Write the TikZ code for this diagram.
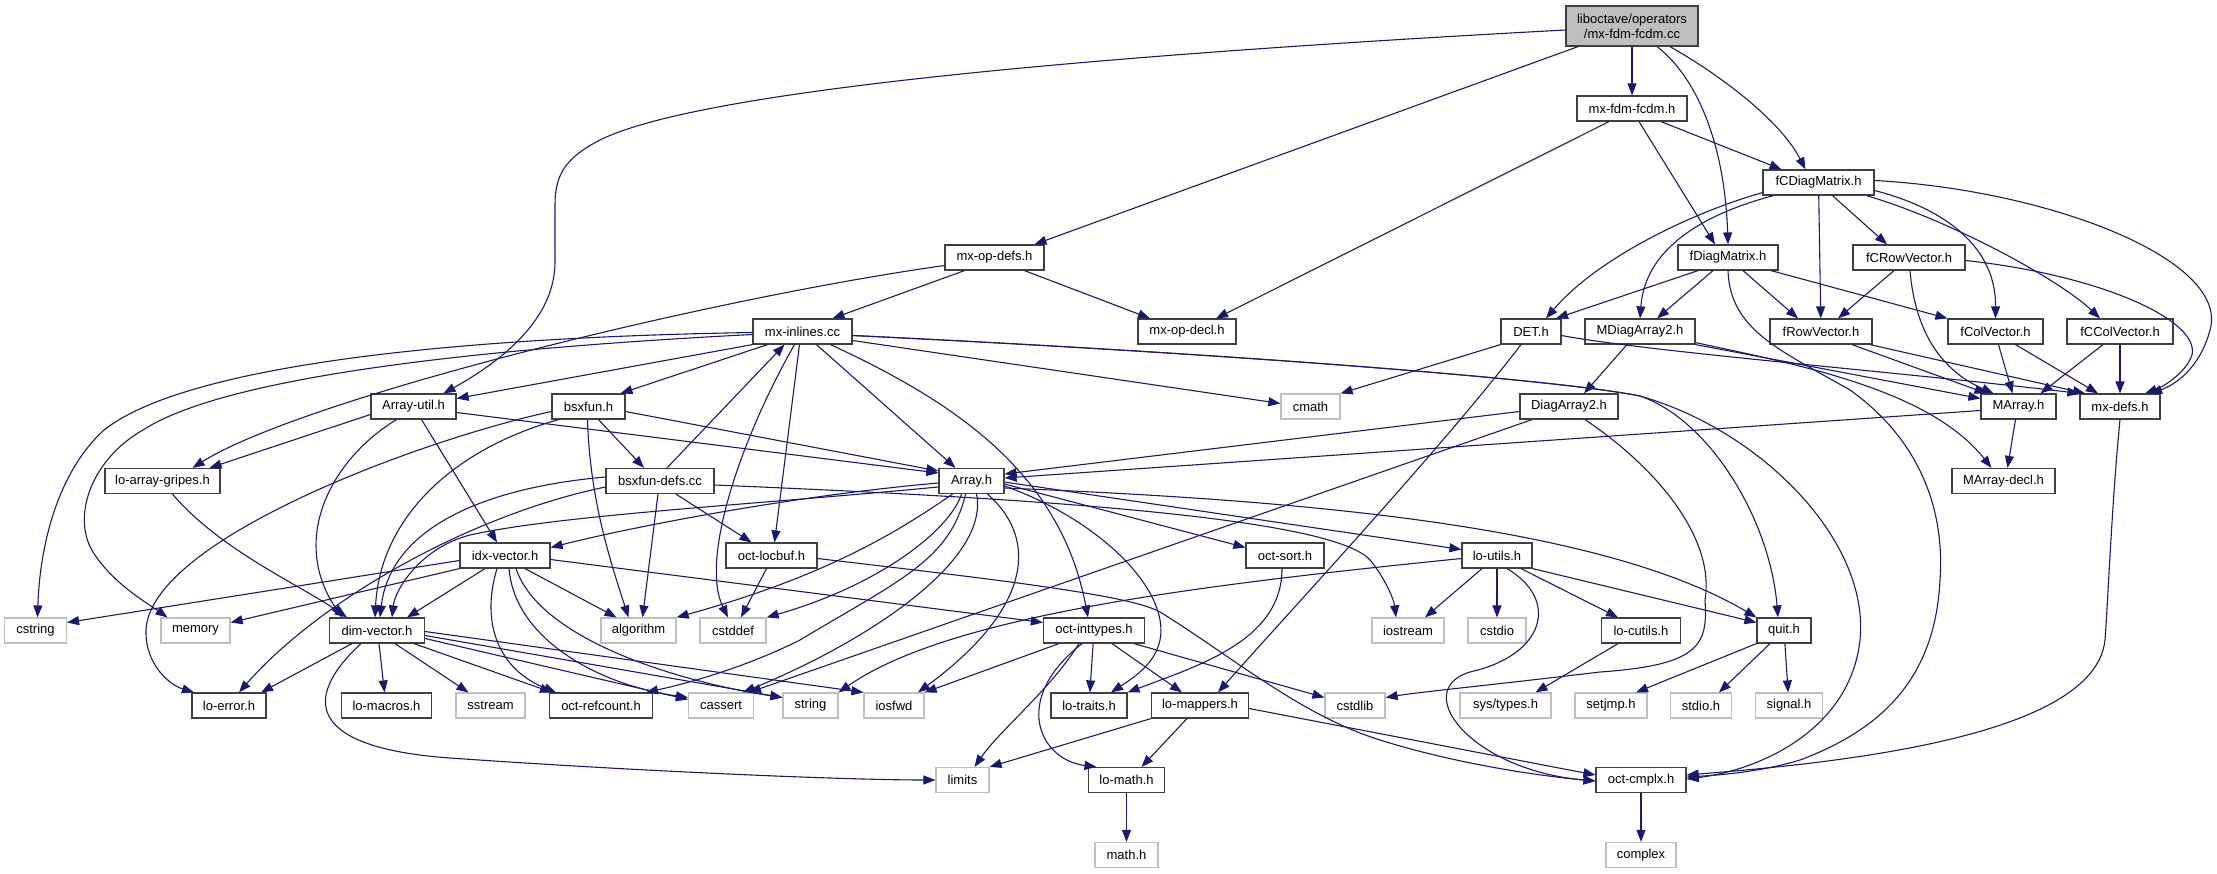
\documentclass[tikz,border=0pt]{standalone}
\usepackage{fontspec}
\setmainfont{Liberation Sans}
\usetikzlibrary{arrows.meta}
\definecolor{edgeblue}{RGB}{25,25,112}
\definecolor{boxline}{RGB}{64,64,64}
\definecolor{extline}{RGB}{191,191,191}
\definecolor{rootfill}{RGB}{191,191,191}
\tikzset{
  nb/.style={draw=boxline, line width=1.2pt, minimum height=25pt, inner sep=0pt, font=\fontsize{13}{15}\selectfont},
  ext/.style={nb, draw=extline},
  rootbox/.style={nb, fill=rootfill, minimum height=40pt, align=center},
  e/.style={draw=edgeblue, line width=1.1pt, -{Triangle[length=12pt,width=9pt]}},
}
\begin{document}
\begin{tikzpicture}[x=1pt,y=-1pt]
\useasboundingbox (0,0) rectangle (2217,873);
% nodes
\node[rootbox, minimum width=132pt] (R) at (1632,26) {liboctave/operators\\/mx-fdm-fcdm.cc};
\node[nb, minimum width=110pt] (H) at (1632,108.5) {mx-fdm-fcdm.h};
\node[nb, minimum width=111pt] (FCD) at (1818.5,182.5) {fCDiagMatrix.h};
\node[nb, minimum width=99pt] (MOD) at (994.5,257.5) {mx-op-defs.h};
\node[nb, minimum width=100pt] (FD) at (1728,257.5) {fDiagMatrix.h};
\node[nb, minimum width=112pt] (FCRV) at (1909,257.5) {fCRowVector.h};
\node[nb, minimum width=99pt] (MXI) at (802.5,331.5) {mx-inlines.cc};
\node[nb, minimum width=98pt] (MOPDECL) at (1187,331.5) {mx-op-decl.h};
\node[nb, minimum width=60pt] (DET) at (1531,331.5) {DET.h};
\node[nb, minimum width=110pt] (MDA2) at (1640,331.5) {MDiagArray2.h};
\node[nb, minimum width=102pt] (FRV) at (1821,331.5) {fRowVector.h};
\node[nb, minimum width=95pt] (FCV) at (1995.5,331.5) {fColVector.h};
\node[nb, minimum width=106pt] (FCCV) at (2120,331.5) {fCColVector.h};
\node[nb, minimum width=85pt] (AU) at (413.5,406.5) {Array-util.h};
\node[nb, minimum width=73pt] (BSX) at (588.5,406.5) {bsxfun.h};
\node[ext, minimum width=59pt] (CMATH) at (1310.5,406.5) {cmath};
\node[nb, minimum width=98pt] (DA2) at (1569,406.5) {DiagArray2.h};
\node[nb, minimum width=75pt] (MARR) at (2018.5,406.5) {MArray.h};
\node[nb, minimum width=80pt] (MXDEFS) at (2120,406.5) {mx-defs.h};
\node[nb, minimum width=115pt] (LAG) at (162.5,481) {lo-array-gripes.h};
\node[nb, minimum width=108pt] (BSXD) at (660,481) {bsxfun-defs.cc};
\node[nb, minimum width=65pt] (ARR) at (971.5,481) {Array.h};
\node[nb, minimum width=103pt] (MAD) at (2003.5,481) {MArray-decl.h};
\node[nb, minimum width=90pt] (IDX) at (505,555.5) {idx-vector.h};
\node[nb, minimum width=91pt] (LOCBUF) at (771.5,555.5) {oct-locbuf.h};
\node[nb, minimum width=78pt] (OSORT) at (1285,555.5) {oct-sort.h};
\node[nb, minimum width=70pt] (LOUT) at (1497,555.5) {lo-utils.h};
\node[ext, minimum width=62pt] (CSTRING) at (35.5,630.5) {cstring};
\node[ext, minimum width=69pt] (MEMORY) at (195.5,630.5) {memory};
\node[nb, minimum width=95pt] (DIMV) at (377,630.5) {dim-vector.h};
\node[ext, minimum width=75pt] (ALGO) at (638.5,630.5) {algorithm};
\node[ext, minimum width=66pt] (CSTDDEF) at (733,630.5) {cstddef};
\node[nb, minimum width=101pt] (OINT) at (1094,630.5) {oct-inttypes.h};
\node[ext, minimum width=72pt] (IOSTREAM) at (1408,630.5) {iostream};
\node[ext, minimum width=58pt] (CSTDIO) at (1497,630.5) {cstdio};
\node[nb, minimum width=79pt] (LOCUT) at (1641,630.5) {lo-cutils.h};
\node[nb, minimum width=54pt] (QUIT) at (1784,630.5) {quit.h};
\node[nb, minimum width=74pt] (LOERR) at (229,705.5) {lo-error.h};
\node[nb, minimum width=90pt] (LOMAC) at (386.5,705.5) {lo-macros.h};
\node[ext, minimum width=69pt] (SSTREAM) at (490.5,705.5) {sstream};
\node[nb, minimum width=103pt] (REFC) at (601,705.5) {oct-refcount.h};
\node[ext, minimum width=65pt] (CASSERT) at (721,705.5) {cassert};
\node[ext, minimum width=55pt] (STRING) at (810.5,705.5) {string};
\node[ext, minimum width=60pt] (IOSFWD) at (894,705.5) {iosfwd};
\node[nb, minimum width=76pt] (LTRAITS) at (1089,705.5) {lo-traits.h};
\node[nb, minimum width=97pt] (LMAP) at (1200,705.5) {lo-mappers.h};
\node[ext, minimum width=60pt] (CSTDLIB) at (1355,705.5) {cstdlib};
\node[ext, minimum width=91pt] (SYSTYPES) at (1505.5,705.5) {sys/types.h};
\node[ext, minimum width=72pt] (SETJMP) at (1611,705.5) {setjmp.h};
\node[ext, minimum width=61pt] (STDIOH) at (1701,705.5) {stdio.h};
\node[ext, minimum width=67pt] (SIGNAL) at (1789,705.5) {signal.h};
\node[ext, minimum width=53pt] (LIMITS) at (962.5,780) {limits};
\node[nb, minimum width=76pt] (LMATH) at (1126.5,780) {lo-math.h};
\node[nb, minimum width=90pt] (OCMPLX) at (1641,780) {oct-cmplx.h};
\node[ext, minimum width=63pt] (MATHH) at (1126.5,855) {math.h};
\node[ext, minimum width=70pt] (COMPLEX) at (1641,855) {complex};
% root
\draw[e] ([yshift=-4pt]R.west) .. controls (1100,55) and (700,90) .. (600,140) .. controls (565,158) and (555,175) .. (555,205) -- (555,262) .. controls (555,320) and (500,362) .. ([xshift=30pt]AU.north);
\draw[e] ([xshift=-54pt]R.south) -- ([xshift=40pt]MOD.north);
\draw[e] (R) -- (H);
\draw[e] ([xshift=25pt]R.south) .. controls (1700,80) and (1725,150) .. (FD.north);
\draw[e] ([xshift=38pt]R.south) .. controls (1720,75) and (1780,120) .. ([xshift=-13pt]FCD.north);
% mx-fdm-fcdm.h
\draw[e] ([xshift=-23pt]H.south) -- ([xshift=29pt]MOPDECL.north);
\draw[e] ([xshift=7pt]H.south) -- ([xshift=-13pt]FD.north);
\draw[e] ([xshift=29pt]H.south) -- ([xshift=-37pt]FCD.north);
% fCDiagMatrix.h
\draw[e] ([yshift=3pt]FCD.south west) .. controls (1700,210) and (1600,255) .. ([xshift=15pt]DET.north);
\draw[e] ([xshift=-45pt]FCD.south) .. controls (1700,215) and (1645,250) .. (MDA2.north);
\draw[e] (FCD) -- (FRV);
\draw[e] ([xshift=14pt]FCD.south) -- ([xshift=-22pt]FCRV.north);
\draw[e] ([yshift=-8pt]FCD.east) .. controls (1950,210) and (1996,250) .. (FCV.north);
\draw[e] ([xshift=48pt]FCD.south) .. controls (1950,220) and (2060,280) .. ([xshift=-20pt]FCCV.north);
\draw[e] ([yshift=2pt]FCD.east) .. controls (2050,190) and (2230,260) .. (2210,330) .. controls (2200,368) and (2175,385) .. ([xshift=30pt]MXDEFS.north);
% fDiagMatrix.h
\draw[e] ([xshift=-30pt]FD.south) -- ([xshift=25pt]DET.north);
\draw[e] ([xshift=-15pt]FD.south) -- ([xshift=17pt]MDA2.north);
\draw[e] ([xshift=15pt]FD.south) -- ([xshift=-23pt]FRV.north);
\draw[e] ([xshift=43pt]FD.south) -- (FCV.north west);
\draw[e] (FD.south) .. controls (1730,330) and (1780,350) .. (1850,390) .. controls (1920,440) and (1945,510) .. (1940,580) .. controls (1935,680) and (1880,730) .. (1800,760) .. controls (1760,772) and (1720,775) .. ([yshift=3pt]OCMPLX.east);
% DET.h
\draw[e] (DET.south west) -- (CMATH.north east);
\draw[e] ([xshift=-10pt]DET.south) .. controls (1440,450) and (1300,600) .. ([xshift=18pt]LMAP.north);
\draw[e] ([yshift=-4pt]DET.east) .. controls (1650,352) and (1900,372) .. (MXDEFS.north west);
% MDiagArray2.h
\draw[e] ([xshift=-13pt]MDA2.south) -- ([xshift=15pt]DA2.north);
\draw[e] (MDA2.south east) -- ([yshift=8pt]MARR.west);
\draw[e] ([yshift=2pt]MDA2.south east) .. controls (1800,365) and (1930,390) .. ([xshift=-12pt]MAD.north);
% vectors
\draw[e] ([xshift=31pt]FRV.south) -- ([xshift=-32pt]MARR.north);
\draw[e] ([xshift=49pt]FRV.south) -- ([xshift=-35pt]MXDEFS.north);
\draw[e] ([xshift=-15pt]FCRV.south) -- ([xshift=17pt]FRV.north);
\draw[e] ([xshift=1pt]FCRV.south) .. controls (1915,330) and (1940,370) .. ([xshift=-25pt]MARR.north);
\draw[e] ([yshift=-3pt]FCRV.east) .. controls (2100,275) and (2200,320) .. (2192,355) .. controls (2185,375) and (2160,388) .. ([xshift=25pt]MXDEFS.north);
\draw[e] ([xshift=3pt]FCV.south) -- ([xshift=-6pt]MARR.north);
\draw[e] ([xshift=20pt]FCV.south) -- ([xshift=-22pt]MXDEFS.north);
\draw[e] ([xshift=-17pt]FCCV.south) -- ([xshift=22pt]MARR.north);
\draw[e] (FCCV) -- (MXDEFS);
% MArray.h, DiagArray2.h, mx-defs.h
\draw[e] ([yshift=-4pt]MARR.west) -- ([yshift=3pt]ARR.east);
\draw[e] ([xshift=-3pt]MARR.south) -- ([xshift=4pt]MAD.north);
\draw[e] ([yshift=-5pt]DA2.west) -- ([yshift=7pt]ARR.east);
\draw[e] ([xshift=-37pt]DA2.south) -- ([xshift=28pt]CASSERT.north);
\draw[e] ([xshift=16pt]DA2.south) .. controls (1660,470) and (1715,540) .. (1705,600) .. controls (1708,645) and (1700,665) .. (1600,672) .. controls (1500,684) and (1420,692) .. ([yshift=8pt]CSTDLIB.east);
\draw[e] (MXDEFS.south) .. controls (2112,500) and (2108,600) .. (2105,640) .. controls (2095,735) and (1850,762) .. ([yshift=5pt]OCMPLX.east);
% mx-op-defs.h
\draw[e] ([xshift=-30pt]MOD.south) -- ([xshift=30pt]MXI.north);
\draw[e] ([xshift=30pt]MOD.south) -- ([xshift=-37pt]MOPDECL.north);
\draw[e] ([yshift=-8pt]MOD.west) .. controls (700,300) and (300,400) .. ([xshift=30pt]LAG.north);
% mx-inlines.cc
\draw[e] ([yshift=-1pt]MXI.west) .. controls (420,338) and (180,370) .. (104,430) .. controls (60,470) and (40,540) .. ([xshift=2pt]CSTRING.north);
\draw[e] ([yshift=-3pt]MXI.west) .. controls (450,350) and (220,380) .. (143,430) .. controls (90,460) and (70,520) .. (95,555) .. controls (115,585) and (150,605) .. ([xshift=-28pt]MEMORY.north);
\draw[e] (MXI.south west) -- ([yshift=8pt]AU.east);
\draw[e] ([xshift=-35pt]MXI.south) -- ([xshift=32pt]BSX.north);
\draw[e] ([xshift=14pt]MXI.south) -- ([xshift=-16pt]ARR.north);
\draw[e] ([xshift=-3pt]MXI.south) -- ([xshift=3pt]LOCBUF.north);
\draw[e] ([xshift=-8pt]MXI.south) .. controls (740,440) and (700,560) .. ([xshift=-5pt]CSTDDEF.north);
\draw[e] ([xshift=28pt]MXI.south) .. controls (950,400) and (1060,470) .. ([xshift=-6pt]OINT.north);
\draw[e] ([yshift=-9pt]MXI.east) -- ([yshift=3pt]CMATH.west);
\draw[e] ([yshift=-4pt]MXI.east) .. controls (1200,352) and (1550,378) .. (1640,396) .. controls (1710,420) and (1770,520) .. ([xshift=-6pt]QUIT.north);
\draw[e] ([yshift=-4pt]MXI.east) .. controls (1200,352) and (1550,378) .. (1640,396) .. controls (1760,430) and (1870,540) .. (1860,640) .. controls (1850,730) and (1760,770) .. ([yshift=1pt]OCMPLX.east);
% bsxfun.h
\draw[e] ([xshift=10pt]BSX.south) -- ([xshift=-16pt]BSXD.north);
\draw[e] ([xshift=-1pt]BSX.south) .. controls (590,500) and (610,560) .. ([xshift=-10pt]ALGO.north);
\draw[e] ([yshift=-5pt]BSX.east) -- ([yshift=10pt]ARR.west);
\draw[e] ([xshift=-30pt]BSX.south) .. controls (450,450) and (380,520) .. ([xshift=-2pt]DIMV.north);
\draw[e] ([yshift=-5pt]BSX.west) .. controls (420,440) and (150,540) .. (146,630) .. controls (145,665) and (170,685) .. ([xshift=-35pt]LOERR.north);
% bsxfun-defs.cc
\draw[e] ([xshift=7pt]BSXD.north) -- ([xshift=-18pt]MXI.south);
\draw[e] ([xshift=16pt]BSXD.south) -- ([xshift=-20pt]LOCBUF.north);
\draw[e] ([xshift=-2pt]BSXD.south) -- ([xshift=4pt]ALGO.north);
\draw[e] ([yshift=4pt]BSXD.west) .. controls (480,488) and (390,530) .. ([xshift=3pt]DIMV.north);
\draw[e] ([yshift=-6pt]BSXD.west) .. controls (470,515) and (320,600) .. ([xshift=10pt]LOERR.north);
\draw[e] ([yshift=-4pt]BSXD.east) .. controls (1000,497) and (1330,515) .. (1370,560) .. controls (1385,578) and (1394,600) .. ([xshift=-12pt]IOSTREAM.north);
% Array-util.h
\draw[e] ([yshift=-8pt]AU.west) -- ([xshift=47pt]LAG.north);
\draw[e] ([xshift=-17pt]AU.south) .. controls (330,460) and (290,540) .. ([xshift=-35pt]DIMV.north);
\draw[e] ([xshift=8pt]AU.south) -- ([xshift=-8pt]IDX.north);
\draw[e] ([yshift=-6pt]AU.east) -- ([yshift=8pt]ARR.west);
% lo-array-gripes.h
\draw[e] ([xshift=10pt]LAG.south) .. controls (220,550) and (300,585) .. ([xshift=-30pt]DIMV.north);
% Array.h
\draw[e] ([yshift=-6pt]ARR.west) .. controls (750,505) and (560,515) .. (470,535) .. controls (420,548) and (395,590) .. ([xshift=15pt]DIMV.north);
\draw[e] ([yshift=-2pt]ARR.west) .. controls (800,495) and (640,525) .. ([yshift=8pt]IDX.east);
\draw[e] ([xshift=-19pt]ARR.south) .. controls (900,530) and (830,575) .. (ALGO.north east);
\draw[e] ([xshift=-10pt]ARR.south) .. controls (950,530) and (880,585) .. (CSTDDEF.north east);
\draw[e] ([xshift=-6pt]ARR.south) .. controls (950,560) and (900,580) .. (800,640) .. controls (740,670) and (680,685) .. ([xshift=45pt]REFC.north);
\draw[e] ([xshift=5pt]ARR.south) .. controls (990,560) and (870,640) .. ([xshift=22pt]CASSERT.north);
\draw[e] ([xshift=16pt]ARR.south) .. controls (1040,540) and (1030,610) .. ([xshift=24pt]IOSFWD.north);
\draw[e] ([yshift=-5pt]ARR.east) .. controls (1100,520) and (1170,590) .. (1160,640) .. controls (1155,665) and (1130,680) .. ([xshift=22pt]LTRAITS.north);
\draw[e] ([yshift=-3pt]ARR.east) -- ([yshift=8pt]OSORT.west);
\draw[e] ([yshift=-1pt]ARR.east) -- ([yshift=6pt]LOUT.west);
\draw[e] ([yshift=-7pt]ARR.east) .. controls (1300,500) and (1600,525) .. (QUIT.north west);
% oct-sort.h
\draw[e] ([xshift=-3pt]OSORT.south) .. controls (1282,640) and (1200,665) .. (LTRAITS.north east);
% lo-utils.h
\draw[e] ([xshift=-15pt]LOUT.south) -- ([xshift=17pt]IOSTREAM.north);
\draw[e] (LOUT) -- (CSTDIO);
\draw[e] ([xshift=24pt]LOUT.south) -- ([xshift=-23pt]LOCUT.north);
\draw[e] (LOUT.south east) -- ([yshift=8pt]QUIT.west);
\draw[e] ([xshift=10pt]LOUT.south) .. controls (1560,600) and (1545,655) .. (1470,672) .. controls (1410,690) and (1470,770) .. ([yshift=-1pt]OCMPLX.west);
\draw[e] ([yshift=-3pt]LOUT.west) .. controls (1200,585) and (950,615) .. (STRING.north east);
% lo-cutils.h, quit.h
\draw[e] ([xshift=-23pt]LOCUT.south) -- ([xshift=30pt]SYSTYPES.north);
\draw[e] (QUIT.south west) -- ([xshift=25pt]SETJMP.north);
\draw[e] ([xshift=-14pt]QUIT.south) -- ([xshift=18pt]STDIOH.north);
\draw[e] (QUIT) -- (SIGNAL);
% oct-inttypes.h
\draw[e] ([xshift=-15pt]OINT.south) .. controls (1050,690) and (1000,730) .. ([xshift=12pt]LIMITS.north);
\draw[e] ([xshift=-12pt]OINT.south) .. controls (1010,700) and (1040,760) .. ([xshift=-30pt]LMATH.north);
\draw[e] (OINT) -- (LTRAITS);
\draw[e] ([xshift=-35pt]OINT.south) -- (IOSFWD.north east);
\draw[e] ([xshift=40pt]OINT.south) -- ([yshift=8pt]CSTDLIB.west);
\draw[e] ([xshift=18pt]OINT.south) -- ([xshift=-18pt]LMAP.north);
% lo-mappers.h
\draw[e] ([xshift=-13pt]LMAP.south) -- ([xshift=15pt]LMATH.north);
\draw[e] (LMAP.south west) -- (LIMITS.north east);
\draw[e] ([yshift=-3pt]LMAP.east) -- ([yshift=5pt]OCMPLX.west);
\draw[e] (LMATH) -- (MATHH);
\draw[e] (OCMPLX) -- (COMPLEX);
% oct-locbuf.h
\draw[e] ([xshift=-5pt]LOCBUF.south) -- ([xshift=8pt]CSTDDEF.north);
\draw[e] ([yshift=-3pt]LOCBUF.east) .. controls (1000,580) and (1130,595) .. (1160,612) .. controls (1230,655) and (1300,715) .. (1380,740) .. controls (1450,762) and (1530,775) .. ([yshift=-1pt]OCMPLX.west);
% dim-vector.h
\draw[e] ([xshift=-25pt]DIMV.south) -- ([xshift=32pt]LOERR.north);
\draw[e] ([xshift=2pt]DIMV.south) -- ([xshift=-2pt]LOMAC.north);
\draw[e] ([xshift=18pt]DIMV.south) -- ([xshift=-22pt]SSTREAM.north);
\draw[e] ([xshift=37pt]DIMV.south) -- ([xshift=-49pt]REFC.north);
\draw[e] ([yshift=-8pt]DIMV.east) -- ([yshift=6pt]CASSERT.west);
\draw[e] ([yshift=-5pt]DIMV.east) -- ([yshift=8pt]STRING.west);
\draw[e] ([yshift=-1pt]DIMV.east) -- (IOSFWD.north west);
\draw[e] ([xshift=-16pt]DIMV.south) .. controls (300,700) and (310,748) .. (450,758) .. controls (650,772) and (850,780) .. (LIMITS.west);
% idx-vector.h
\draw[e] ([yshift=-5pt]IDX.west) -- ([yshift=8pt]CSTRING.east);
\draw[e] (IDX.south west) -- ([yshift=8pt]MEMORY.east);
\draw[e] ([xshift=-20pt]IDX.south) -- ([xshift=30pt]DIMV.north);
\draw[e] ([xshift=20pt]IDX.south) -- ([xshift=-22pt]ALGO.north);
\draw[e] ([xshift=-8pt]IDX.south) .. controls (480,625) and (500,670) .. ([xshift=-45pt]REFC.north);
\draw[e] ([xshift=4pt]IDX.south) .. controls (515,640) and (600,685) .. ([yshift=8pt]CASSERT.west);
\draw[e] ([xshift=11pt]IDX.south) .. controls (540,640) and (680,682) .. ([yshift=8pt]STRING.west);
\draw[e] ([yshift=-4pt]IDX.east) -- ([yshift=8pt]OINT.west);
\end{tikzpicture}
\end{document}
